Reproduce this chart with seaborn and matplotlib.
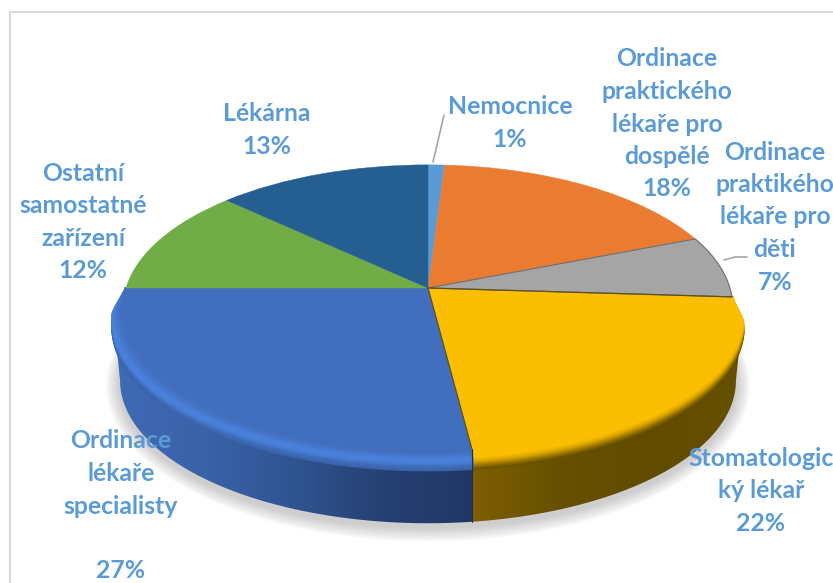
import numpy as np
import matplotlib
matplotlib.use("Agg")
import matplotlib.pyplot as plt
from matplotlib.patches import Polygon
from matplotlib.transforms import Transform
import seaborn as sns

# data
categories = ["Nemocnice",
              "Ordinace\npraktického\nlékaře pro\ndospělé",
              "Ordinace\npraktikého\nlékaře pro\nděti",
              "Stomatologic\nký lékař",
              "Ordinace\nlékaře\nspecialisty\n",
              "Ostatní\nsamostatné\nzařízení",
              "Lékárna"]
shares = [1, 18, 7, 22, 27, 12, 13]
slice_colors = ["#5B9BD5", "#E97C30", "#A5A5A5", "#FBBE00", "#416FBE", "#70AD47", "#255E91"]
text_color = "#5B9BD5"

# label centres in pixels
label_x = [510, 667, 775, 761, 121, 83, 267]
label_y = [123, 124, 217, 491, 506, 222, 130]

# geometry of the tilted disc, in pixels
CX, CY = 428, 288
RX, RY = 302, 140
K = 0.137
DEPTH = 73
BEVEL = 20
TOP_SCALE = 1.035     # the rounded edge sticks out past the flat top
BOTTOM_SCALE = 1.01

sns.set_theme(style="white")
plt.rcParams["font.family"] = ["Lato", "DejaVu Sans"]


class Perspective(Transform):
    # unit circle of the pie -> pixels of the picture
    input_dims = 2
    output_dims = 2

    def transform_non_affine(self, values):
        values = np.asarray(values)
        w = 1 + K * values[:, 1]
        return np.column_stack((CX + RX * values[:, 0] / w, CY - RY * values[:, 1] / w))


def rim(a_from, a_to, n=200):
    # rim points between two pie angles (degrees, clockwise from north)
    a = np.radians(np.linspace(a_from, a_to, n))
    return Perspective().transform_non_affine(np.column_stack((np.sin(a), np.cos(a))))


def shifted(pts, scale, drop):
    return np.column_stack((CX + (pts[:, 0] - CX) * scale, pts[:, 1] + drop))


fig = plt.figure(figsize=(8.33, 5.83), dpi=100)
ax = fig.add_axes([0, 0, 1, 1])

wedges, _ = ax.pie(shares, colors=sns.color_palette(slice_colors), startangle=90,
                   counterclock=False, radius=1, frame=False)
ax.set_aspect("auto")
ax.set_xlim(0, 833)
ax.set_ylim(583, 0)
ax.axis("off")

persp = Perspective() + ax.transData
for w, c in zip(wedges, slice_colors):
    w.set_transform(persp)
    w.set_zorder(4)
    w.set_edgecolor(c)
    w.set_linewidth(0.3)
wedges[2].set_edgecolor("#6E6E6E")
wedges[2].set_linewidth(0.8)
wedges[2].set_zorder(5)

# side wall only shows on the front part of the pie
edges = np.cumsum([0] + shares) * 3.6
limit = np.degrees(np.arccos(-K))
wall_cmaps = {
    3: sns.blend_palette(["#7F6000", "#665000", "#604B00", "#665000"], as_cmap=True),
    4: sns.blend_palette(["#3F6AB5", "#3A62A8", "#2F5490", "#263F72", "#1F3864"], as_cmap=True),
}
bevel_cmaps = {
    3: sns.blend_palette(["#FBBE00", "#FBBE00", "#FBBE00", "#D9A400", "#9A7600", "#665000"], as_cmap=True),
    4: sns.blend_palette(["#416FBE", "#4374C6", "#4A80DC", "#4A7FD8", "#3F6DBB", "#3A62A8"], as_cmap=True),
}

# soft shadow under the disc
full = shifted(rim(0, 360, 300), BOTTOM_SCALE, DEPTH)
for s in np.linspace(14, 1, 12):
    cx_s = CX + (full[:, 0] - CX) * (1 + s / 310)
    cy_s = full[:, 1].mean() + 4 + (full[:, 1] - full[:, 1].mean()) * (1 + s / 150)
    ax.fill(cx_s, cy_s, color="#7F7F7F", alpha=0.035, lw=0, zorder=1)

for i in (3, 4):
    a_from = max(edges[i], limit)
    a_to = min(edges[i + 1], 360 - limit)
    top = rim(a_from, a_to)
    bottom = shifted(top, BOTTOM_SCALE, DEPTH)
    wall = Polygon(np.vstack((shifted(top, TOP_SCALE, 0), bottom[::-1])), closed=True,
                   transform=ax.transData, fc="none", ec="none")
    ax.add_patch(wall)
    grad = np.linspace(0, 1, 256)[None, :]
    im = ax.imshow(grad, cmap=wall_cmaps[i], aspect="auto", zorder=2,
                   extent=(bottom[:, 0].min() - 4, bottom[:, 0].max() + 4, 583, 0))
    im.set_clip_path(wall)
    # rounded edge between top and side, it grows out of the rim at the two ends of the front
    angles = np.linspace(edges[i], edges[i + 1], 300)
    outer = rim(edges[i], edges[i + 1], 300)
    ramp = np.clip(np.minimum(angles - 93.6, 270 - angles) / 7, 0, 1)
    ramp = ramp * ramp * (3 - 2 * ramp)
    for d in np.linspace(BEVEL, 0, BEVEL + 1):
        t = d / BEVEL
        xs = CX + (outer[:, 0] - CX) * (1 + (TOP_SCALE - 1) * min(t * 2.2, 1) * ramp)
        ys = outer[:, 1] + d * ramp
        ax.plot(xs, ys, color=bevel_cmaps[i](t), lw=1.7, solid_capstyle="butt", zorder=3)
ax.set_xlim(0, 833)
ax.set_ylim(583, 0)

# dark seam between blue and yellow
seam = rim(edges[4], edges[4], 2)
ax.plot([CX, seam[0, 0]], [CY, seam[0, 1]], color="#5F5020", lw=0.9, zorder=6)
ax.plot([CX, rim(edges[3], edges[3], 2)[0, 0]], [CY, rim(edges[3], edges[3], 2)[0, 1]],
        color="#5F5020", lw=0.9, zorder=6)
ax.plot([seam[0, 0], seam[0, 0]], [seam[0, 1], seam[0, 1] + DEPTH], color="#1F3050", lw=0.8, zorder=3)

# chart frame and leader lines
ax.plot([10, 10, 833], [583, 12, 12], color="#D9D9D9", lw=1.5, zorder=1)
ax.plot([433, 444], [162, 115], color="#A6A6A6", lw=1.2, zorder=6)
ax.plot([724, 735, 747], [260, 257, 257], color="#A6A6A6", lw=1.2, zorder=6)

for name, share, x, y in zip(categories, shares, label_x, label_y):
    ax.text(x, y, f"{name}\n{share}%", color=text_color, fontsize=17.8, fontweight="bold",
            ha="center", va="center", linespacing=1.5, zorder=7)

fig.savefig("out.png", dpi=100)
